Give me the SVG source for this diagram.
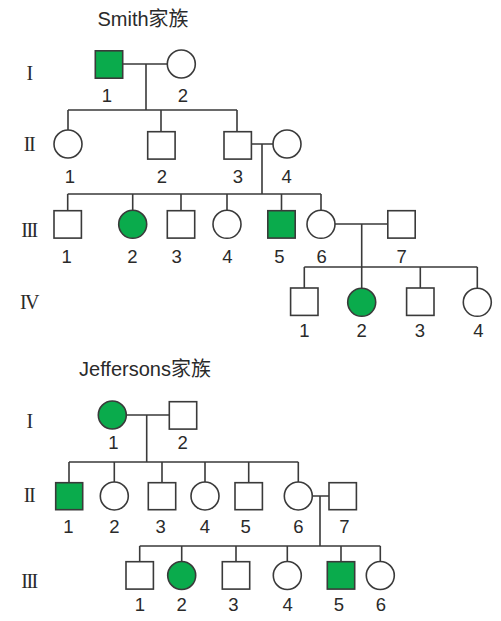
<svg xmlns="http://www.w3.org/2000/svg" width="501" height="621" viewBox="0 0 501 621">
<style>
.m{fill:#fff;stroke:#3a3a3a;stroke-width:1.6}
.a{fill:#0aab4c;stroke:#3a3a3a;stroke-width:1.6}
.c{fill:none;stroke:#3a3a3a;stroke-width:1.6}
.n{font-family:"Liberation Sans",Arial,sans-serif;font-size:18.5px;fill:#2a2a2a;text-anchor:middle}
.t{font-family:"Liberation Sans","Noto Sans CJK SC",sans-serif;font-size:20px;fill:#2a2a2a;text-anchor:middle}
.r{font-family:"Liberation Serif","Times New Roman",serif;font-size:20px;fill:#2a2a2a;text-anchor:middle;letter-spacing:-1.5px}
</style>
<rect width="501" height="621" fill="#fff"/>
<g id="titles">
<text class="t" x="143" y="26">Smith家族</text>
<text class="t" x="145" y="376">Jeffersons家族</text>
</g>
<g id="generations">
<text class="r" x="29" y="80">I</text>
<text class="r" x="29" y="151">II</text>
<text class="r" x="29" y="237">III</text>
<text class="r" x="29" y="309">IV</text>
<text class="r" x="29" y="428">I</text>
<text class="r" x="29" y="502">II</text>
<text class="r" x="29" y="588">III</text>
</g>
<g id="connectors">
<!-- Smith -->
<path class="c" d="M123 64H167M146 64V110M68 110H237M68 110V130M161 110V131.7M237 110V131.7"/>
<path class="c" d="M251 144H273M262 144V194M67.7 194H321M67.7 194V210.7M132.7 194V210M181 194V210.7M227 194V210M281.5 194V210.7M321 194V210"/>
<path class="c" d="M335 224H388M361.7 224V288M304.3 267H477.3M304.3 267V288M420.3 267V288M477.3 267V288"/>
<!-- Jeffersons -->
<path class="c" d="M126.3 415H169.3M146.7 415V462M69 462H298.3M69 462V482.7M114.3 462V482M162 462V482.7M205 462V482M248.7 462V482.7M298.3 462V482"/>
<path class="c" d="M312.3 496H329M320 496V546M139.7 546H380.3M139.7 546V561.7M181.7 546V561M236 546V561.7M287.3 546V561M341 546V561.7M380.3 546V561"/>
</g>
<!-- Smith nodes -->
<g id="S-I-1"><rect class="a" x="95.3" y="50.8" width="27.4" height="27.4"/><text class="n" x="107" y="101.5">1</text></g>
<g id="S-I-2"><circle class="m" cx="181.3" cy="64" r="14"/><text class="n" x="183" y="101.5">2</text></g>
<g id="S-II-1"><circle class="m" cx="68" cy="144" r="14"/><text class="n" x="70" y="183">1</text></g>
<g id="S-II-2"><rect class="m" x="147.7" y="131.7" width="27.4" height="27.4"/><text class="n" x="162" y="183">2</text></g>
<g id="S-II-3"><rect class="m" x="224" y="131.7" width="27.4" height="27.4"/><text class="n" x="238" y="183">3</text></g>
<g id="S-II-4"><circle class="m" cx="287" cy="144" r="14"/><text class="n" x="286.7" y="183">4</text></g>
<g id="S-III-1"><rect class="m" x="54" y="210.7" width="27.4" height="27.4"/><text class="n" x="66.7" y="262.5">1</text></g>
<g id="S-III-2"><circle class="a" cx="132.7" cy="224.3" r="14"/><text class="n" x="132.3" y="262.5">2</text></g>
<g id="S-III-3"><rect class="m" x="167.3" y="210.7" width="27.4" height="27.4"/><text class="n" x="176.7" y="262.5">3</text></g>
<g id="S-III-4"><circle class="m" cx="227" cy="224.3" r="14"/><text class="n" x="227.3" y="262.5">4</text></g>
<g id="S-III-5"><rect class="a" x="267.8" y="210.7" width="27.4" height="27.4"/><text class="n" x="279.3" y="262.5">5</text></g>
<g id="S-III-6"><circle class="m" cx="321" cy="224.3" r="14"/><text class="n" x="321.7" y="262.5">6</text></g>
<g id="S-III-7"><rect class="m" x="387.8" y="210.7" width="27.4" height="27.4"/><text class="n" x="401.7" y="262.5">7</text></g>
<g id="S-IV-1"><rect class="m" x="290.6" y="288" width="27.4" height="27.4"/><text class="n" x="304.3" y="336.5">1</text></g>
<g id="S-IV-2"><circle class="a" cx="361.7" cy="302.3" r="14"/><text class="n" x="361.7" y="336.5">2</text></g>
<g id="S-IV-3"><rect class="m" x="406.6" y="288" width="27.4" height="27.4"/><text class="n" x="420" y="336.5">3</text></g>
<g id="S-IV-4"><circle class="m" cx="477.3" cy="302.3" r="14"/><text class="n" x="478.3" y="336.5">4</text></g>
<!-- Jeffersons nodes -->
<g id="J-I-1"><circle class="a" cx="112.3" cy="415" r="14"/><text class="n" x="113.3" y="449.3">1</text></g>
<g id="J-I-2"><rect class="m" x="169.3" y="401.7" width="27.4" height="27.4"/><text class="n" x="182.7" y="449.3">2</text></g>
<g id="J-II-1"><rect class="a" x="55.7" y="482.7" width="27" height="27"/><text class="n" x="68.3" y="533.3">1</text></g>
<g id="J-II-2"><circle class="m" cx="114.3" cy="496" r="14"/><text class="n" x="114.3" y="533.3">2</text></g>
<g id="J-II-3"><rect class="m" x="148.3" y="482.7" width="27.4" height="27"/><text class="n" x="160.7" y="533.3">3</text></g>
<g id="J-II-4"><circle class="m" cx="205" cy="496" r="14"/><text class="n" x="205" y="533.3">4</text></g>
<g id="J-II-5"><rect class="m" x="235" y="482.7" width="27.4" height="27"/><text class="n" x="245.7" y="533.3">5</text></g>
<g id="J-II-6"><circle class="m" cx="298.3" cy="496" r="14"/><text class="n" x="298.3" y="533.3">6</text></g>
<g id="J-II-7"><rect class="m" x="329" y="482.7" width="27.4" height="27"/><text class="n" x="344.3" y="533.3">7</text></g>
<g id="J-III-1"><rect class="m" x="126" y="561.7" width="27.4" height="27.4"/><text class="n" x="140" y="611">1</text></g>
<g id="J-III-2"><circle class="a" cx="181.7" cy="575.5" r="14"/><text class="n" x="181.7" y="611">2</text></g>
<g id="J-III-3"><rect class="m" x="222.3" y="561.7" width="27.4" height="27.4"/><text class="n" x="233.3" y="611">3</text></g>
<g id="J-III-4"><circle class="m" cx="287.3" cy="575.5" r="14"/><text class="n" x="287.7" y="611">4</text></g>
<g id="J-III-5"><rect class="a" x="327.3" y="561.7" width="27.4" height="27.4"/><text class="n" x="339" y="611">5</text></g>
<g id="J-III-6"><circle class="m" cx="380.3" cy="575.5" r="14"/><text class="n" x="381" y="611">6</text></g>
</svg>
